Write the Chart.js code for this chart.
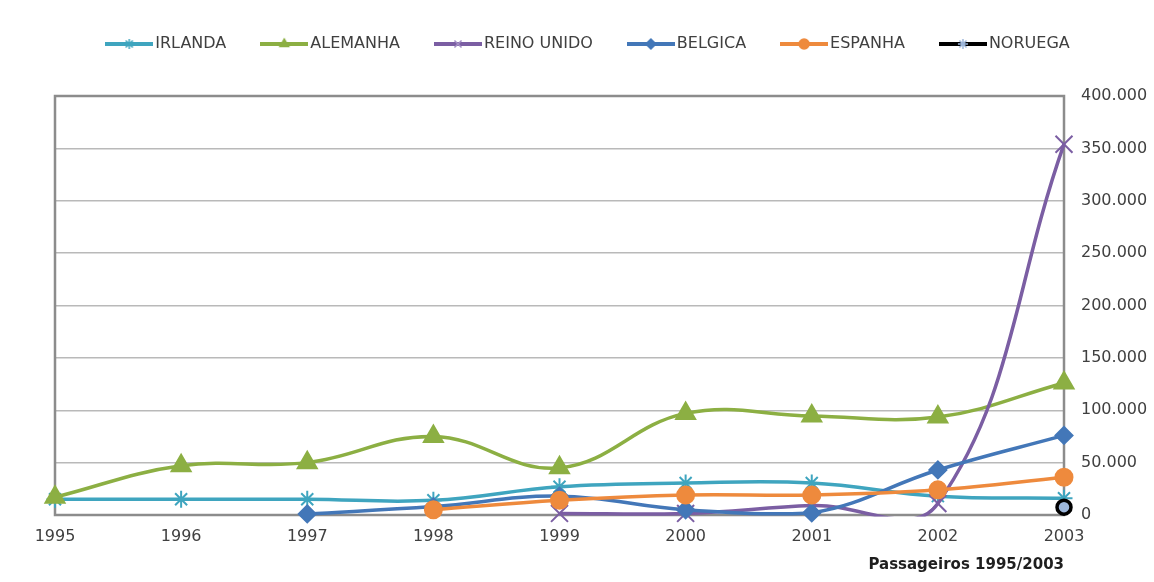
<!doctype html>
<html lang="pt">
  <head>
    <script src="https://cdn.jsdelivr.net/npm/chart.js"></script>
    <meta charset="UTF-8" />
    <title>Passageiros 1995/2003</title>
    <style>
      html,
      body {
        margin: 0;
        padding: 0;
        background: #fff;
      }
      #wrap {
        width: 1154px;
        height: 582px;
        position: relative;
      }
    </style>
  </head>
  <body>
    <div id="wrap"><canvas id="passageiros"></canvas></div>

    <script>
      const anos = ["1995", "1996", "1997", "1998", "1999", "2000", "2001", "2002", "2003"];
      const irlanda = [15000, 15000, 15000, 14000, 27000, 30500, 30500, 18000, 16000];
      const alemanha = [17000, 47000, 50000, 75000, 45000, 97000, 94500, 93500, 126000];
      const reinoUnido = [null, null, null, null, 1500, 1500, 9000, 11000, 354000];
      const belgica = [null, null, 1000, 8000, 18000, 5000, 2000, 43000, 76000];
      const espanha = [null, null, null, 5000, 14000, 19000, 19000, 24000, 36000];
      const noruega = [null, null, null, null, null, null, null, null, 7500];
      const yMax = 400000;
      const yStep = 50000;

      const FONT = "'DejaVu Sans', Verdana, sans-serif";
      const TEXT = "#404040";

      // 400000 -> "400.000"
      function milhares(v) {
        return v === 0 ? "0" : String(v).replace(/\B(?=(\d{3})+(?!\d))/g, ".");
      }

      // small line + marker picture used as the legend symbol
      function legendIcon(color, style, fill, stroke) {
        const c = document.createElement("canvas");
        c.width = 48;
        c.height = 14;
        const g = c.getContext("2d");
        g.strokeStyle = color;
        g.lineWidth = 4;
        g.beginPath();
        g.moveTo(0, 7);
        g.lineTo(48, 7);
        g.stroke();
        g.fillStyle = fill;
        g.strokeStyle = stroke;
        g.lineWidth = 1.5;
        Chart.helpers.drawPoint(g, { pointStyle: style, radius: 5, borderWidth: 1.5, rotation: 0 }, 24, 7);
        return c;
      }

      const cores = {
        irlanda: "#3fa5bf",
        alemanha: "#8caf43",
        reino: "#7b5ea3",
        belgica: "#4377b8",
        espanha: "#ee8a3d",
        noruega: "#000000",
      };

      function serie(label, data, color, style, radius, extra) {
        return Object.assign(
          {
            label: label,
            data: data,
            borderColor: color,
            backgroundColor: color,
            borderWidth: 3.5,
            pointStyle: style,
            pointRadius: radius,
            pointBorderWidth: 2,
            pointBorderColor: color,
            pointBackgroundColor: color,
            tension: 0.4,
          },
          extra || {}
        );
      }

      const datasets = [
        serie("IRLANDA", irlanda, cores.irlanda, "star", 8.5, {
          order: 10,
          icon: legendIcon(cores.irlanda, "star", cores.irlanda, cores.irlanda),
        }),
        serie("ALEMANHA", alemanha, cores.alemanha, "triangle", 11, {
          order: 9,
          icon: legendIcon(cores.alemanha, "triangle", cores.alemanha, cores.alemanha),
        }),
        // the curve dips under zero before 2002, so clip it right at the axis
        serie("REINO UNIDO", reinoUnido, cores.reino, "crossRot", 0, {
          order: 8,
          capBezierPoints: false,
          clip: { left: 10, top: 10, right: 10, bottom: 1.5 },
          icon: legendIcon(cores.reino, "crossRot", cores.reino, "#a48fc4"),
        }),
        serie("", reinoUnido, cores.reino, "crossRot", 12, { order: 7, showLine: false }),
        serie("BELGICA", belgica, cores.belgica, "rectRot", 8.5, {
          order: 6,
          icon: legendIcon(cores.belgica, "rectRot", cores.belgica, cores.belgica),
        }),
        serie("ESPANHA", espanha, cores.espanha, "circle", 8.5, {
          order: 5,
          icon: legendIcon(cores.espanha, "circle", cores.espanha, cores.espanha),
        }),
        serie("NORUEGA", noruega, cores.noruega, "circle", 7, {
          order: 4,
          pointBorderWidth: 3.5,
          pointBorderColor: "#000",
          pointBackgroundColor: "#9db7db",
          icon: legendIcon(cores.noruega, "star", "#9db7db", "#9db7db"),
        }),
      ];

      // grey frame round the plot area, under the lines
      const moldura = {
        id: "moldura",
        beforeDatasetsDraw(chart) {
          const { ctx, chartArea: a } = chart;
          ctx.save();
          ctx.strokeStyle = "#8c8c8c";
          ctx.lineWidth = 2.5;
          ctx.strokeRect(a.left, a.top, a.right - a.left, a.bottom - a.top);
          ctx.restore();
        },
      };

      // leave room between the legend and the plot
      const espacoLegenda = {
        id: "espacoLegenda",
        beforeInit(chart) {
          if (!chart.legend) return;
          const fit = chart.legend.fit;
          chart.legend.fit = function () {
            fit.call(this);
            this.height = 100;
          };
        },
      };

      Chart.defaults.font.family = FONT;
      Chart.defaults.color = TEXT;

      new Chart(document.getElementById("passageiros"), {
        type: "line",
        data: { labels: anos, datasets: datasets },
        plugins: [moldura, espacoLegenda],
        options: {
          responsive: true,
          maintainAspectRatio: false,
          animation: false,
          events: [],
          layout: { padding: { left: 27, right: 0, top: -4, bottom: 0 } },
          plugins: {
            tooltip: { enabled: false },
            legend: {
              position: "top",
              labels: {
                usePointStyle: true,
                pointStyleWidth: 36,
                padding: 40,
                color: TEXT,
                font: { size: 16, family: FONT },
                generateLabels(chart) {
                  return chart.data.datasets
                    .map((ds, i) => ({
                      text: ds.label,
                      pointStyle: ds.icon,
                      datasetIndex: i,
                      hidden: false,
                      lineWidth: 0,
                      fontColor: TEXT,
                    }))
                    .filter((item) => item.text);
                },
              },
            },
          },
          scales: {
            x: {
              offset: false,
              grid: { display: false, drawTicks: false },
              border: { display: false },
              ticks: {
                autoSkip: false,
                maxRotation: 0,
                padding: 12,
                color: TEXT,
                font: { size: 16, family: FONT },
              },
              title: {
                display: true,
                text: "Passageiros 1995/2003",
                align: "end",
                color: "#1e1e1e",
                font: { size: 15, weight: "bold", family: FONT },
                padding: { top: 0, bottom: 8 },
              },
              afterFit(scale) {
                scale.height = 67;
              },
            },
            // empty strip on the left, keeps the plot off the edge
            margem: {
              axis: "y",
              position: "left",
              grid: { display: false, drawTicks: false },
              border: { display: false },
              ticks: { display: false },
              afterFit(scale) {
                scale.width = 28;
              },
            },
            y: {
              position: "right",
              min: 0,
              max: yMax,
              grid: { color: "#b9b9b9", lineWidth: 1.5, drawTicks: false },
              border: { display: false },
              ticks: {
                stepSize: yStep,
                padding: 17,
                color: TEXT,
                font: { size: 16, family: FONT },
                callback: (v) => milhares(v),
              },
              afterFit(scale) {
                scale.width = 90;
              },
            },
          },
        },
      });
    </script>
  </body>
</html>
